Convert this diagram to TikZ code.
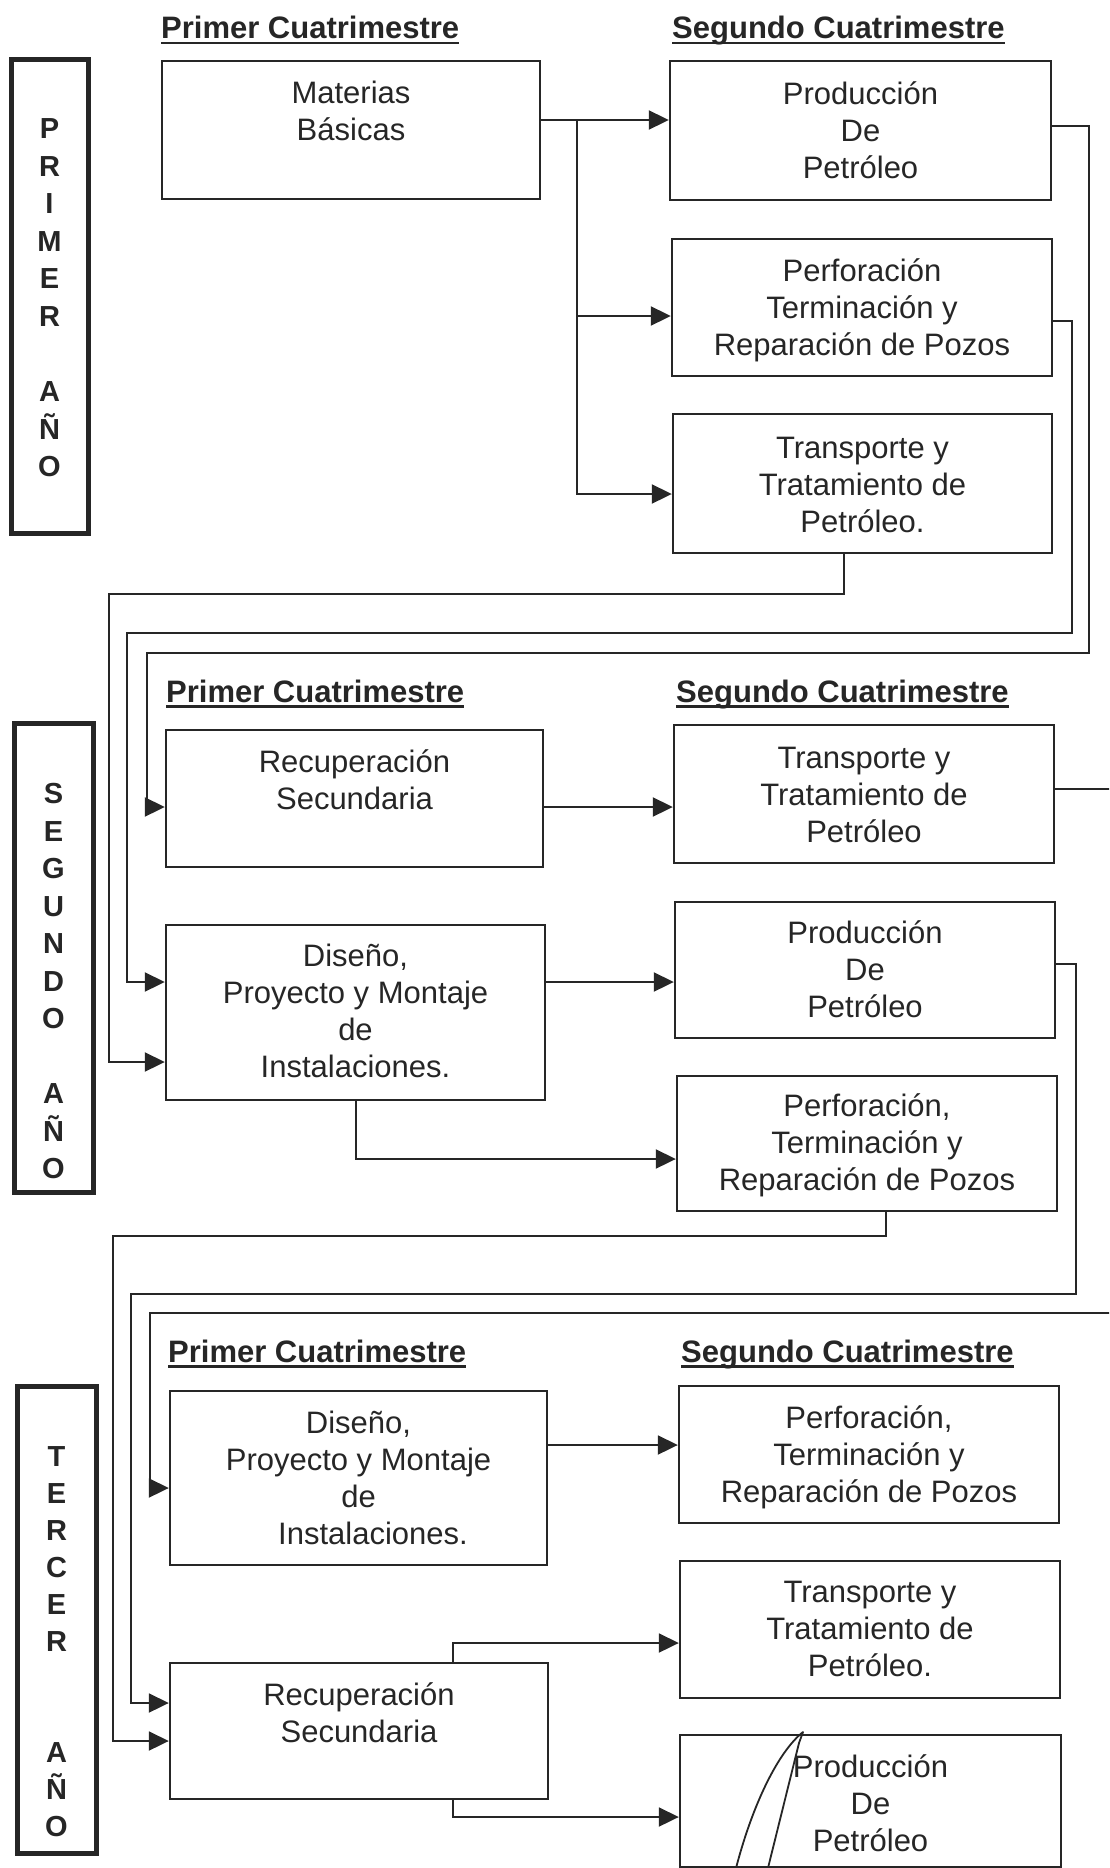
\documentclass[tikz,border=0pt]{standalone}
\usepackage{fontspec}
\setmainfont{Liberation Sans}
\usetikzlibrary{arrows.meta,fit}
\colorlet{ink}{black!85}
\newcommand\boxlines[4]{\foreach \t [count=\i] in {#4}{\node[txt] (#1-\i) at (#2,{#3+37*(\i-1)}) {\t};}}
\newcommand\yearlines[5]{\foreach \t [count=\i] in {#5}{\node[yl] (#1-\i) at (#2,{#3+#4*(\i-1)}) {\t};}}
\begin{document}
\begin{tikzpicture}[x=1pt,y=-1pt,
  box/.style={draw=ink, line width=2.4pt, inner sep=0pt},
  yearbox/.style={draw=ink, line width=5pt, inner sep=0pt},
  txt/.style={anchor=base, inner sep=0pt, text=ink, font=\fontsize{31}{37}\selectfont},
  yl/.style={anchor=base, inner sep=0pt, text=ink, font=\bfseries\fontsize{29}{37}\selectfont},
  head/.style={anchor=base west, inner sep=0pt, text=ink, font=\bfseries\fontsize{31}{37}\selectfont},
  uline/.style={draw=ink, line width=2.6pt},
  conn/.style={draw=ink, line width=2pt},
  arr/.style={conn, -{Triangle[length=20pt,width=19pt]}},
  pen/.style={draw=ink, line width=1.8pt, line cap=round, line join=round}]
\useasboundingbox (0,0) rectangle (1109,1868);
\fill[white] (0,0) rectangle (1109,1868);
\clip (0,0) rectangle (1109,1868);

% ---------- headings ----------
\node[head] (h1a) at (161,38.5) {Primer Cuatrimestre};
\node[head] (h1b) at (672,38.5) {Segundo Cuatrimestre};
\node[head] (h2a) at (166,702) {Primer Cuatrimestre};
\node[head] (h2b) at (676,702) {Segundo Cuatrimestre};
\node[head] (h3a) at (168,1362) {Primer Cuatrimestre};
\node[head] (h3b) at (681,1362) {Segundo Cuatrimestre};
\foreach \h in {h1a,h1b,h2a,h2b,h3a,h3b}
  \draw[uline] ([yshift=-4.5pt]\h.base west) -- ([yshift=-4.5pt]\h.base east);

% ---------- year boxes ----------
\node[yearbox, fit={(11,60) (88,533)}] (yr1) {};
\node[yearbox, fit={(14,723) (93,1192)}] (yr2) {};
\node[yearbox, fit={(17,1386) (96,1853)}] (yr3) {};
\yearlines{y1a}{49.5}{138.5}{37.6}{P,R,I,M,E,R}
\yearlines{y1b}{49.5}{401.7}{37.6}{A,Ñ,O}
\yearlines{y2a}{53.5}{803.5}{37.5}{S,E,G,U,N,D,O}
\yearlines{y2b}{53.5}{1103.5}{37.5}{A,Ñ,O}
\yearlines{y3a}{56.5}{1466}{37}{T,E,R,C,E,R}
\yearlines{y3b}{56.5}{1762}{37}{A,Ñ,O}

% ---------- year 1 ----------
\node[box, fit={(162,61) (540,199)}] (mat) {};
\node[box, fit={(670,61) (1051,200)}] (pro1) {};
\node[box, fit={(672,239) (1052,376)}] (per1) {};
\node[box, fit={(673,414) (1052,553)}] (tra1) {};
\boxlines{tmat}{351}{103}{Materias,Básicas}
\boxlines{tpro1}{860.5}{104}{Producción,De,Petróleo}
\boxlines{tper1}{862}{281}{Perforación,Terminación y,Reparación de Pozos}
\boxlines{ttra1}{862.5}{458}{Transporte y,Tratamiento de,Petróleo.}

% ---------- year 2 ----------
\node[box, fit={(166,730) (543,867)}] (rec2) {};
\node[box, fit={(674,725) (1054,863)}] (tra2) {};
\node[box, fit={(166,925) (545,1100)}] (dis2) {};
\node[box, fit={(675,902) (1055,1038)}] (pro2) {};
\node[box, fit={(677,1076) (1057,1211)}] (per2) {};
\boxlines{trec2}{354.5}{772}{Recuperación,Secundaria}
\boxlines{ttra2}{864}{768}{Transporte y,Tratamiento de,Petróleo}
\boxlines{tdis2}{355.5}{966}{{Diseño,},Proyecto y Montaje,de,Instalaciones.}
\boxlines{tpro2}{865}{943}{Producción,De,Petróleo}
\boxlines{tper2}{867}{1116}{{Perforación,},Terminación y,Reparación de Pozos}

% ---------- year 3 ----------
\node[box, fit={(170,1391) (547,1565)}] (dis3) {};
\node[box, fit={(679,1386) (1059,1523)}] (per3) {};
\node[box, fit={(680,1561) (1060,1698)}] (tra3) {};
\node[box, fit={(170,1663) (548,1799)}] (rec3) {};
\node[box, fit={(680,1735) (1061,1867)}] (pro3) {};
\boxlines{tdis3}{358.5}{1433}{{Diseño,},Proyecto y Montaje,de}
\node[txt] (tdis3-4) at (373,1544) {Instalaciones.};
\boxlines{tper3}{869}{1428}{{Perforación,},Terminación y,Reparación de Pozos}
\boxlines{ttra3}{870}{1602}{Transporte y,Tratamiento de,Petróleo.}
\boxlines{trec3}{359}{1705}{Recuperación,Secundaria}
\boxlines{tpro3}{870.5}{1777}{Producción,De,Petróleo}

% ---------- connectors, year 1 ----------
\coordinate (br) at (577,120);
\draw[arr] (mat.east |- 0,120) -- (pro1.west |- 0,120);
\draw[arr] (br) |- (per1.west |- 0,316);
\draw[arr] (br) |- (tra1.west |- 0,494);
\draw[arr] (pro1.east |- 0,126) -| (1089,653) -| (147,807) -- (rec2.west |- 0,807);
\draw[arr] (per1.east |- 0,321) -| (1072,633) -| (127,982) -- (dis2.west |- 0,982);
\draw[arr] (tra1.south -| 844,0) |- (109,594) |- (dis2.west |- 0,1062);

% ---------- connectors, year 2 ----------
\draw[arr] (rec2.east |- 0,807) -- (tra2.west |- 0,807);
\draw[arr] (tra2.east |- 0,789) -| (1125,1313) -| (150,1488) -- (dis3.west |- 0,1488);
\draw[arr] (dis2.east |- 0,982) -- (pro2.west |- 0,982);
\draw[arr] (dis2.south -| 356,0) |- (per2.west |- 0,1159);
\draw[arr] (pro2.east |- 0,964) -| (1076,1294) -| (131,1703) -- (rec3.west |- 0,1703);
\draw[arr] (per2.south -| 886,0) |- (113,1236) |- (rec3.west |- 0,1741);

% ---------- connectors, year 3 ----------
\draw[arr] (dis3.east |- 0,1445) -- (per3.west |- 0,1445);
\draw[arr] (rec3.north -| 453,0) |- (tra3.west |- 0,1643);
\draw[arr] (rec3.south -| 453,0) |- (pro3.west |- 0,1817);

% ---------- pen stroke over the last box ----------
\draw[pen] (735,1872) .. controls (752,1805) and (778,1752) .. (803,1732)
  -- (799,1743) -- (767,1872);
\end{tikzpicture}
\end{document}
